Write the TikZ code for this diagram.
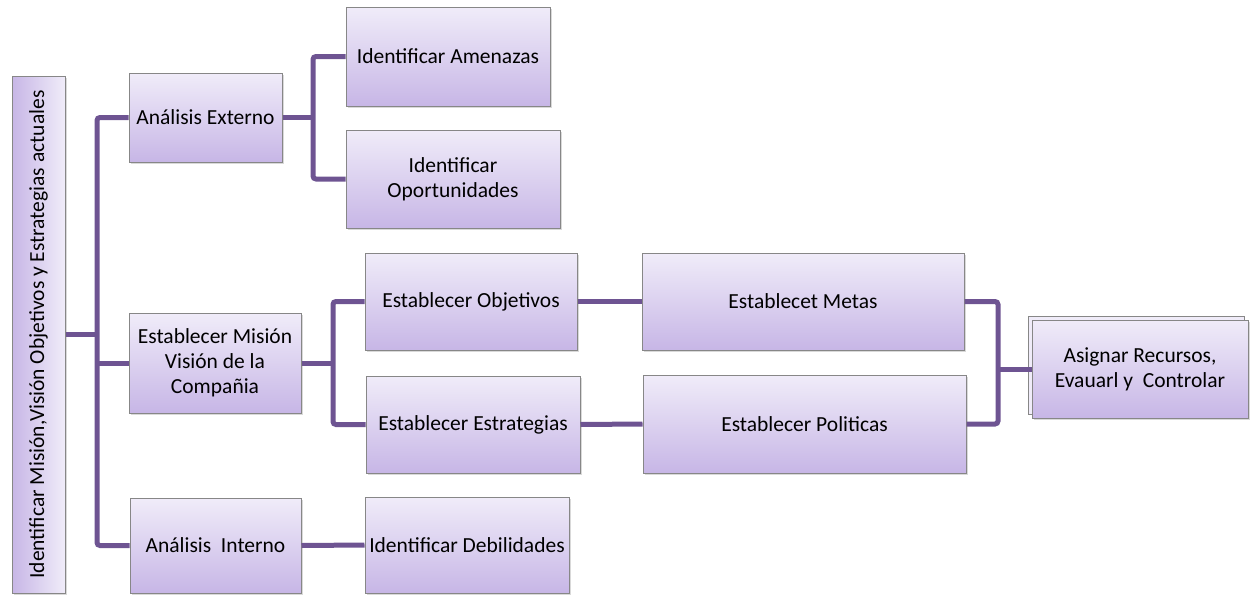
\documentclass[tikz,border=0pt]{standalone}
\usepackage{fontspec}
\setmainfont{Carlito}
\usetikzlibrary{shadows}
\definecolor{boxtop}{RGB}{240,236,249}
\definecolor{boxbot}{RGB}{199,182,230}
\definecolor{boxline}{RGB}{135,135,135}
\definecolor{linkc}{RGB}{110,84,146}
\tikzset{stepbox/.style={draw=boxline, line width=1pt, top color=boxtop,
    bottom color=boxbot, align=center, inner sep=2pt,
    drop shadow={shadow xshift=2pt,shadow yshift=-2pt,opacity=0.3}},
  link/.style={draw=linkc, line width=5pt, rounded corners=3pt}}

\begin{document}
\begin{tikzpicture}[x=1pt,y=-1pt,every node/.style={font=\fontsize{21.5}{25}\selectfont}]
  \useasboundingbox (0,0) rectangle (1258,597);
  \node[stepbox, rotate=90, left color=boxbot, right color=boxtop, minimum width=517pt, minimum height=53pt] (mision) at (38.5,334.5) {Identificar Misión,Visión Objetivos y Estrategias actuales};
  \node[stepbox, minimum width=153pt, minimum height=89pt] (ext) at (205.5,117.5) {Análisis Externo};
  \node[stepbox, minimum width=204pt, minimum height=99pt] (amen) at (448,56.5) {Identificar Amenazas};
  \node[stepbox, minimum width=214pt, minimum height=98pt] (oport) at (453,179) {Identificar\\Oportunidades};
  \node[stepbox, minimum width=172pt, minimum height=100pt] (estmision) at (215,363) {Establecer Misión\\Visión de la\\Compañia};
  \node[stepbox, minimum width=212pt, minimum height=97pt] (obj) at (471,301.5) {Establecer Objetivos};
  \node[stepbox, minimum width=214pt, minimum height=97pt] (estr) at (473,424.5) {Establecer Estrategias};
  \node[stepbox, minimum width=322pt, minimum height=97pt] (metas) at (803,301.5) {Establecet Metas};
  \node[stepbox, minimum width=323pt, minimum height=98pt] (polit) at (804.5,424) {Establecer Politicas};
  \node[stepbox, copy shadow={shadow xshift=-4pt,shadow yshift=4pt,fill=boxtop,draw=boxline,line width=1pt}, minimum width=216pt, minimum height=98pt] (asignar) at (1140,369) {Asignar Recursos,\\Evauarl y\ \ Controlar};
  \node[stepbox, minimum width=171pt, minimum height=95pt] (interno) at (215.5,545.5) {Análisis\ \ Interno};
  \node[stepbox, minimum width=204pt, minimum height=96pt] (debil) at (467,545) {Identificar Debilidades};

  \coordinate (t1) at (97,0);
  \coordinate (t2) at (313,0);
  \coordinate (t3) at (333,0);
  \coordinate (j) at (998,369);
  \draw[link] (ext.west) -- (ext.west -| t1) |- (interno.west);
  \draw[link] (mision.south) -- (mision.south -| t1);
  \draw[link] (estmision.west) -- (estmision.west -| t1);
  \draw[link] (amen.west) -| (t2 |- ext.east) |- (oport.west);
  \draw[link] (ext.east) -- (ext.east -| t2);
  \draw[link] (obj.west) -| (t3 |- estmision.east) |- (estr.west);
  \draw[link] (estmision.east) -- (estmision.east -| t3);
  \draw[link] (obj.east) -- (metas.west);
  \draw[link] (estr.east) -- (polit.west);
  \draw[link] (interno.east) -- (debil.west);
  \draw[link] (metas.east) -| (j) |- (polit.east);
  \draw[link] (j) -- (asignar.west);
\end{tikzpicture}
\end{document}
